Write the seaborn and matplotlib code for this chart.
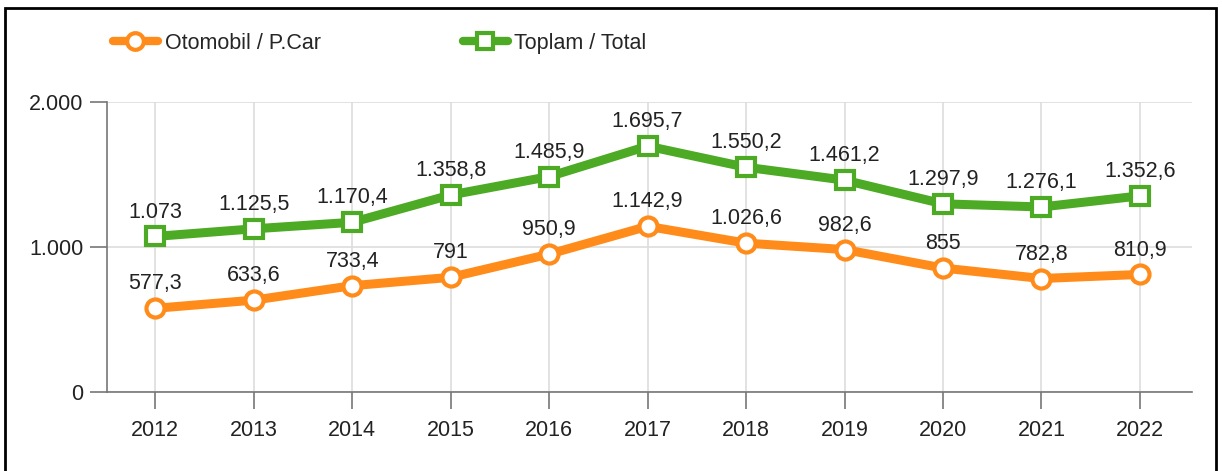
import matplotlib.pyplot as plt
from matplotlib.patches import Rectangle
from matplotlib.lines import Line2D
import seaborn as sns

years = [2012, 2013, 2014, 2015, 2016, 2017, 2018, 2019, 2020, 2021, 2022]
otomobil = [577.3, 633.6, 733.4, 791, 950.9, 1142.9, 1026.6, 982.6, 855, 782.8, 810.9]
toplam = [1073, 1125.5, 1170.4, 1358.8, 1485.9, 1695.7, 1550.2, 1461.2, 1297.9, 1276.1, 1352.6]
otomobil_labels = ["577,3", "633,6", "733,4", "791", "950,9", "1.142,9", "1.026,6",
                   "982,6", "855", "782,8", "810,9"]
toplam_labels = ["1.073", "1.125,5", "1.170,4", "1.358,8", "1.485,9", "1.695,7",
                 "1.550,2", "1.461,2", "1.297,9", "1.276,1", "1.352,6"]
y_ticks = [0, 1000, 2000]
y_tick_labels = ["0", "1.000", "2.000"]

ORANGE = "#ff8c1a"
GREEN = "#4caa24"
FS = 15.5

sns.set_theme(style="white")
plt.rcParams["font.family"] = ["Liberation Sans", "DejaVu Sans"]

fig = plt.figure(figsize=(12.22, 4.71), dpi=100)
ax = fig.add_axes([0.0876, 0.1677, 0.8879, 0.6157])

line_kw = dict(linewidth=6.5, markersize=13, markeredgewidth=3,
               markerfacecolor="white", ax=ax, legend=False)
sns.lineplot(x=years, y=otomobil, color=ORANGE, marker="o",
             markeredgecolor=ORANGE, **line_kw)
sns.lineplot(x=years, y=toplam, color=GREEN, marker="s",
             markeredgecolor=GREEN, **line_kw)

for x, y, t in zip(years, otomobil, otomobil_labels):
    ax.annotate(t, (x, y), xytext=(0, 10), textcoords="offset points",
                ha="center", va="bottom", fontsize=FS, color="#222222")
for x, y, t in zip(years, toplam, toplam_labels):
    ax.annotate(t, (x, y), xytext=(0, 10), textcoords="offset points",
                ha="center", va="bottom", fontsize=FS, color="#222222")

ax.set_xlim(2011.51, 2022.53)
ax.set_ylim(0, 2000)
ax.set_xticks(years)
ax.set_xticklabels([str(y) for y in years], fontsize=FS, color="#222222")
ax.set_yticks(y_ticks)
ax.set_yticklabels(y_tick_labels, fontsize=FS, color="#222222")
ax.tick_params(axis="x", length=12, width=1.2, color="#777777", pad=8, direction="out",
               bottom=True)
ax.tick_params(axis="y", length=12, width=1.2, color="#777777", pad=5, direction="out",
               left=True)
ax.grid(True, color="#dddddd", linewidth=1.2)
ax.set_axisbelow(True)
for name, spine in ax.spines.items():
    if name in ("left", "bottom"):
        spine.set_color("#777777")
        spine.set_linewidth(1.2)
    else:
        spine.set_visible(False)

handles = [
    Line2D([], [], color=ORANGE, linewidth=6, marker="o", markersize=12,
           markerfacecolor="white", markeredgecolor=ORANGE, markeredgewidth=3),
    Line2D([], [], color=GREEN, linewidth=6, marker="s", markersize=12,
           markerfacecolor="white", markeredgecolor=GREEN, markeredgewidth=3),
]
fig.legend(handles, ["Otomobil / P.Car", "Toplam / Total"], loc="center left",
           bbox_to_anchor=(0.0765, 0.908), ncol=2, frameon=False, fontsize=FS,
           handlelength=2.1, columnspacing=6.6, handletextpad=0.3)

fig.patches.append(Rectangle((0.004, -0.02), 0.991, 1.003, transform=fig.transFigure,
                             fill=False, edgecolor="black", linewidth=2))

fig.savefig("out.png", dpi=100)
